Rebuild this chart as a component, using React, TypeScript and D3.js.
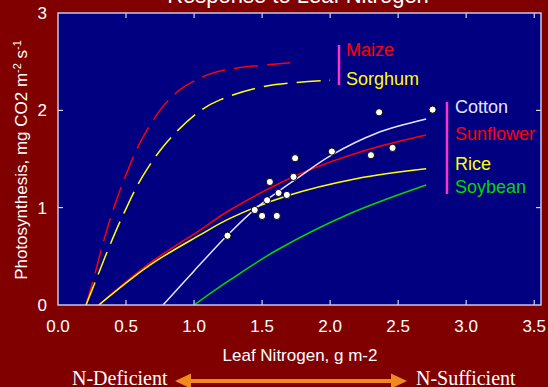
import * as d3 from 'd3';

// curves: [leaf N, photosynthesis]
const maize: [number, number][] = [
  [0.206, 0], [0.26, 0.26], [0.344, 0.7], [0.43, 1.08], [0.49, 1.3], [0.6, 1.66],
  [0.76, 2.02], [0.895, 2.21], [1.005, 2.305], [1.176, 2.4], [1.706, 2.49],
];
const sorghum: [number, number][] = [
  [0.206, 0], [0.28, 0.26], [0.38, 0.61], [0.49, 0.96], [0.613, 1.3], [0.792, 1.66],
  [1.03, 1.98], [1.19, 2.107], [1.534, 2.25], [2.0, 2.31],
];
const cotton: [number, number][] = [
  [0.772, 0], [1.0, 0.35], [1.238, 0.706], [1.46, 1.0], [1.776, 1.32], [2.01, 1.54],
  [2.341, 1.765], [2.706, 1.91],
];
const sunflower: [number, number][] = [
  [0.3, 0], [0.675, 0.43], [1.044, 0.77], [1.264, 0.976], [1.776, 1.346], [2.268, 1.593],
  [2.706, 1.747],
];
const rice: [number, number][] = [
  [0.3, 0], [0.675, 0.41], [1.044, 0.72], [1.264, 0.89], [1.68, 1.12], [2.2, 1.3], [2.706, 1.4],
];
const soybean: [number, number][] = [
  [1.0, 0], [1.264, 0.257], [1.61, 0.565], [2.147, 0.94], [2.706, 1.233],
];
const observed: [number, number][] = [
  [1.246, 0.712], [1.446, 0.976], [1.5, 0.915], [1.608, 0.915], [1.537, 1.076],
  [1.621, 1.151], [1.682, 1.131], [1.557, 1.264], [1.731, 1.316], [1.743, 1.508],
  [2.013, 1.576], [2.3, 1.539], [2.36, 1.98], [2.459, 1.614], [2.753, 2.007],
];
const xTicks = [0, 0.5, 1, 1.5, 2, 2.5, 3, 3.5];
const yTicks = [0, 1, 2, 3];

const bg = '#800000';
const plotBg = '#000080';
const frame = '#c8c8e8';
const red = '#ff0000';
const yellow = '#ffff00';
const white = '#e4e4ff';
const green = '#00d800';
const magenta = '#ff33cc';
const orange = '#f08a1e';
const font = 'Arial, "Liberation Sans", sans-serif';
const serif = '"Liberation Serif", "Times New Roman", serif';

const W = 548;
const H = 387;
const plot = { left: 58, right: 541, top: 13, bottom: 305 };

export default function App() {
  const x = d3.scaleLinear().domain([0, 3.55]).range([plot.left, plot.right]);
  const y = d3.scaleLinear().domain([0, 3]).range([plot.bottom, plot.top]);
  const line = d3
    .line<[number, number]>()
    .x((d) => x(d[0]))
    .y((d) => y(d[1]))
    .curve(d3.curveCatmullRom.alpha(0.5));

  const curves = [
    { data: maize, color: red, dash: '24 9' },
    { data: sorghum, color: yellow, dash: '24 9' },
    { data: sunflower, color: red, dash: null },
    { data: rice, color: yellow, dash: null },
    { data: cotton, color: white, dash: null },
    { data: soybean, color: green, dash: null },
  ];

  return (
    <svg width={W} height={H} style={{ position: 'absolute', left: 0, top: 0 }} fontFamily={font}>
      <rect width={W} height={H} fill={bg} />
      <text x={298} y={2.5} fontSize={22} fill="#fff" textAnchor="middle">
        Response to Leaf Nitrogen
      </text>
      <rect
        x={plot.left}
        y={plot.top}
        width={plot.right - plot.left}
        height={plot.bottom - plot.top}
        fill={plotBg}
      />
      {/* inward ticks on all four sides */}
      {xTicks.slice(1).map((t) => (
        <g key={'xt' + t} stroke="#fff" strokeWidth={1}>
          <line x1={x(t)} x2={x(t)} y1={plot.bottom} y2={plot.bottom - 5} />
          <line x1={x(t)} x2={x(t)} y1={plot.top} y2={plot.top + 5} />
        </g>
      ))}
      {yTicks.slice(1, -1).map((t) => (
        <g key={'yt' + t} stroke="#fff" strokeWidth={1}>
          <line x1={plot.left} x2={plot.left + 5} y1={y(t)} y2={y(t)} />
          <line x1={plot.right} x2={plot.right - 5} y1={y(t)} y2={y(t)} />
        </g>
      ))}
      {curves.map((c, i) => (
        <path
          key={i}
          d={line(c.data) ?? ''}
          fill="none"
          stroke={c.color}
          strokeWidth={1.5}
          strokeDasharray={c.dash ?? undefined}
        />
      ))}
      {observed.map((d, i) => (
        <circle key={i} cx={x(d[0])} cy={y(d[1])} r={3.6} fill="#fff" stroke="#000" strokeWidth={1} />
      ))}
      <rect
        x={plot.left}
        y={plot.top}
        width={plot.right - plot.left}
        height={plot.bottom - plot.top}
        fill="none"
        stroke={frame}
        strokeWidth={1.5}
      />
      {xTicks.map((t) => (
        <text key={'xl' + t} x={x(t)} y={332} fontSize={17} fill="#fff" textAnchor="middle">
          {t.toFixed(1)}
        </text>
      ))}
      {yTicks.map((t) => (
        <text key={'yl' + t} x={47} y={y(t) + 6} fontSize={17} fill="#fff" textAnchor="end">
          {t}
        </text>
      ))}
      <text x={300} y={361} fontSize={17} fill="#fff" textAnchor="middle">
        Leaf Nitrogen, g m-2
      </text>
      <text transform="translate(27,160) rotate(-90)" fontSize={17} fill="#fff" textAnchor="middle">
        Photosynthesis, mg CO2 m
        <tspan dy={-6} fontSize={11}>-2</tspan>
        <tspan dy={6}> s</tspan>
        <tspan dy={-6} fontSize={11}>-1</tspan>
      </text>

      {/* legend */}
      <line x1={339} x2={339} y1={45} y2={85} stroke={magenta} strokeWidth={2.5} />
      <text x={346} y={56} fontSize={18} fill={red}>Maize</text>
      <text x={346} y={85} fontSize={18} fill={yellow}>Sorghum</text>
      <line x1={447} x2={447} y1={102} y2={194} stroke={magenta} strokeWidth={2.5} />
      <text x={455} y={113} fontSize={18} fill={white}>Cotton</text>
      <text x={455} y={140} fontSize={18} fill={red}>Sunflower</text>
      <text x={455} y={170} fontSize={18} fill={yellow}>Rice</text>
      <text x={455} y={193} fontSize={18} fill={green}>Soybean</text>

      {/* N status arrow */}
      <text x={72} y={385} fontSize={20} fill="#fff" fontFamily={serif}>
        N-Deficient
      </text>
      <text x={416} y={385} fontSize={20} fill="#fff" fontFamily={serif}>
        N-Sufficient
      </text>
      <line x1={188} x2={394} y1={381} y2={381} stroke={orange} strokeWidth={4} />
      <path d="M175,381 L191,373.5 L191,388.5 Z" fill={orange} />
      <path d="M407,381 L391,373.5 L391,388.5 Z" fill={orange} />
    </svg>
  );
}
